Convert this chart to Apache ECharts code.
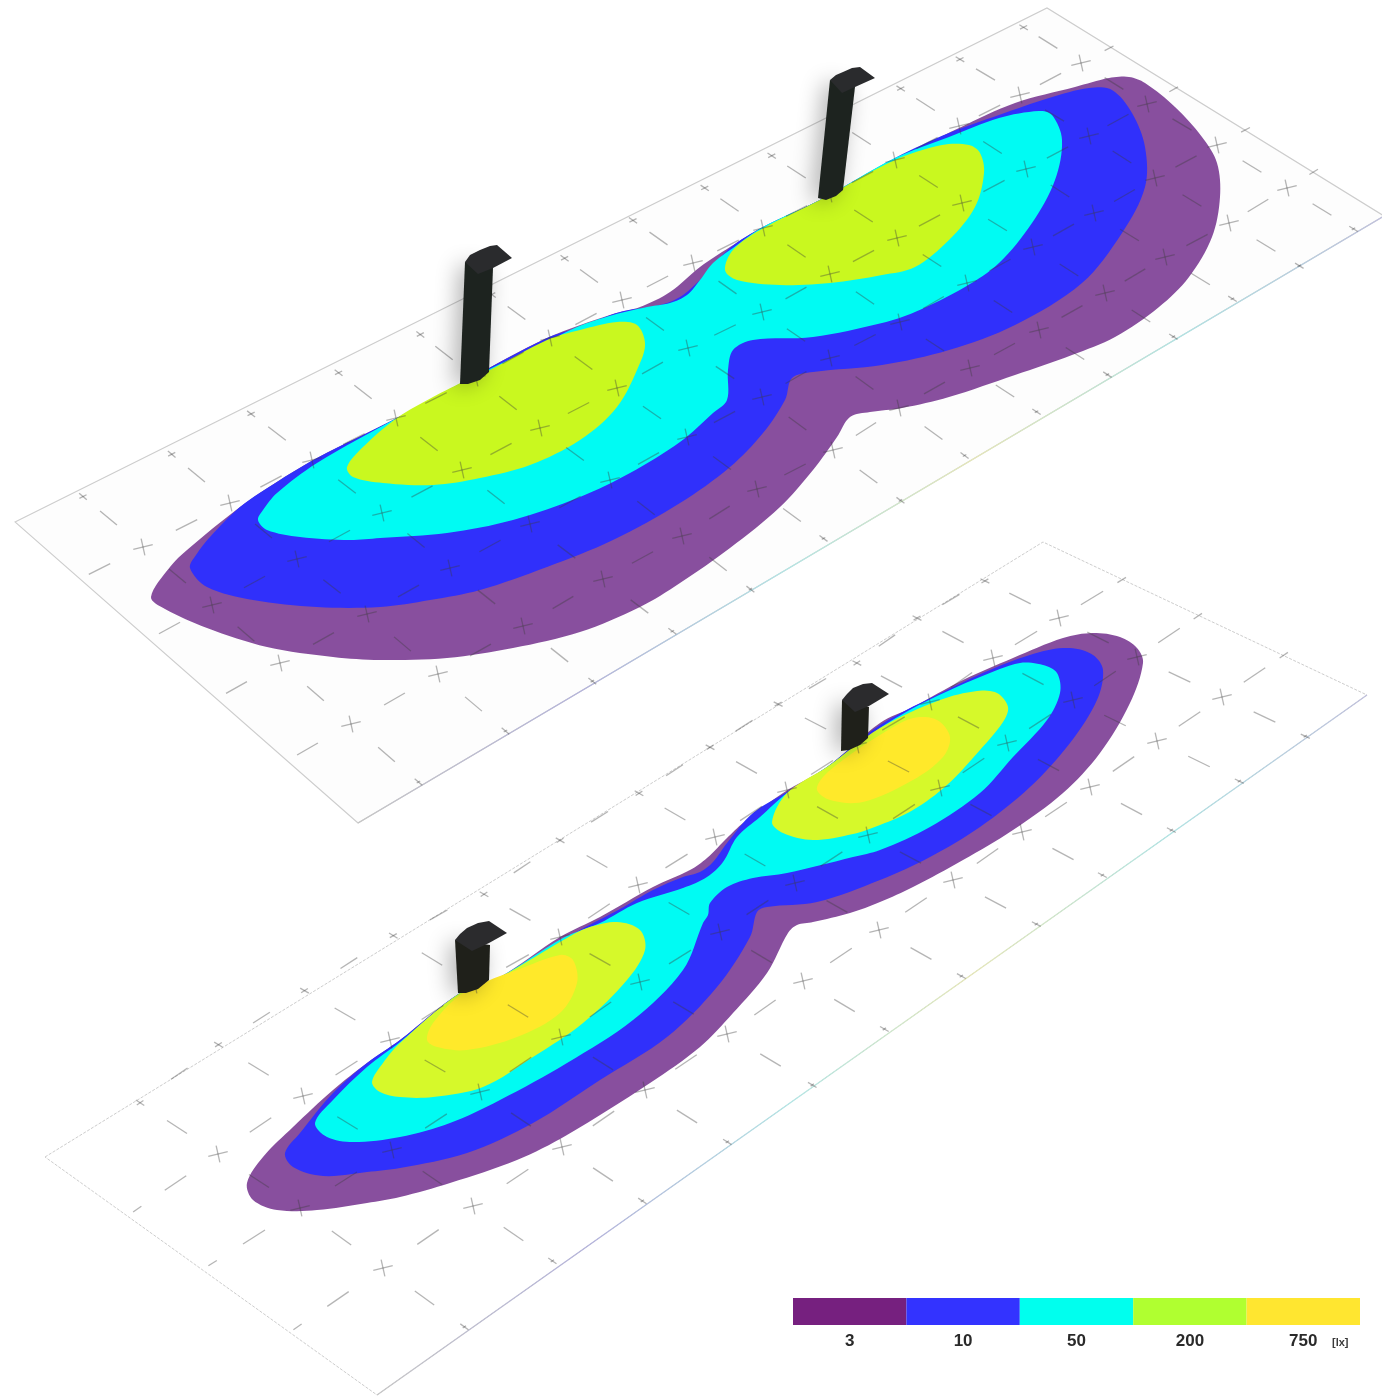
<!DOCTYPE html>
<html>
<head>
<meta charset="utf-8">
<style>html,body{margin:0;padding:0;background:#fff}#c{width:1382px;height:1397px}</style>
<script src="https://cdn.jsdelivr.net/npm/echarts@6/dist/echarts.min.js"></script>
</head>
<body>
<div id="c"></div>
<script>
// ---------- legend ----------
var legendLabels = ['3', '10', '50', '200', '750'];
var legendValues = [1, 1, 1, 1, 1];
var legendColors = ['#76207f', '#3333ff', '#00ffee', '#b0ff30', '#ffe630'];
var unitLabel = '[lx]';

// ---------- upper plane ----------
var plane1 = [[15,522],[1047,8],[1384,216],[358,823]];
var plane1Rows = [
  [[143,547],[230,503],[312,460],[396,418],[476,378],[550,338],[622,300],[693,263],[763,228],[830,194],[895,160],[959,126],[1020,95],[1081,63]],
  [[212,605],[297,559],[382,513],[462,470],[540,428],[617,388],[688,348],[762,312],[830,274],[897,238],[962,203],[1026,169],[1089,136],[1147,104]],
  [[280,663],[367,614],[450,568],[530,524],[610,480],[687,437],[762,397],[830,358],[900,322],[967,283],[1033,247],[1094,213],[1155,178],[1217,145]],
  [[351,724],[438,674],[523,626],[603,579],[682,536],[757,489],[833,450],[899,408],[970,368],[1039,330],[1105,293],[1165,257],[1229,223],[1287,188]]
];
var p1Lux3 = [[151,597],[170,567],[187,550],[240,507],[280,480],[317,458],[397,418],[467,380],[547,338],[613,314],[640,307],[670,292],[700,267],[730,247],[763,227],[820,200],[895,160],[959,128],[1015,103],[1075,87],[1109,78],[1129,77],[1145,83],[1175,107],[1202,137],[1217,163],[1220,197],[1212,237],[1189,277],[1159,307],[1115,337],[1072,355],[1015,375],[949,397],[902,408],[870,412],[850,417],[837,437],[813,470],[780,507],[730,548],[680,583],[640,607],[580,632],[513,648],[447,658],[380,660],[333,657],[267,647],[207,628],[165,609]];
var p1Lux10 = [[190,568],[196,555],[210,537],[240,507],[280,480],[317,458],[397,418],[467,380],[547,338],[580,327],[620,312],[660,305],[680,297],[700,280],[730,248],[763,227],[820,200],[895,158],[949,133],[999,115],[1049,98],[1089,88],[1112,90],[1132,113],[1145,147],[1145,187],[1122,233],[1082,283],[1015,325],[949,350],[882,365],[813,372],[792,378],[785,400],[763,433],[730,467],[680,503],[613,540],[547,567],[480,590],[430,600],[380,607],[317,607],[253,600],[207,587]];
var p1Lux50 = [[258,520],[263,510],[277,493],[317,463],[397,418],[467,380],[547,342],[577,327],[613,315],[647,307],[670,303],[687,295],[700,280],[713,263],[733,248],[763,227],[820,200],[895,158],[949,137],[999,118],[1039,111],[1052,115],[1062,140],[1055,180],[1032,223],[999,263],[965,287],[915,312],[882,323],[813,337],[753,340],[733,350],[728,370],[727,400],[713,413],[680,442],[630,473],[580,497],[513,520],[447,533],[380,538],[350,540],[300,537],[267,530]];
var p1Lux200a = [[347,467],[363,447],[397,418],[433,397],[467,380],[490,370],[547,340],[580,330],[617,322],[637,325],[645,343],[640,363],[617,407],[580,440],[530,465],[480,478],[433,485],[383,483],[353,477]];
var p1Lux200b = [[725,270],[733,250],[760,230],[820,200],[895,160],[942,145],[969,145],[980,153],[984,173],[975,207],[949,240],[915,267],[882,275],[830,283],[780,285],[737,280]];
var p1PoleA = [[465,262],[460,384],[468,384],[480,380],[489,372],[493,268]];
var p1HoodA = [[465,262],[470,255],[480,250],[490,246],[497,245],[512,258],[493,268],[478,274]];
var p1PoleB = [[830,80],[818,198],[826,200],[836,196],[843,190],[855,87]];
var p1HoodB = [[830,80],[836,75],[843,72],[852,68],[860,67],[875,78],[855,87],[842,93]];

// ---------- lower plane ----------
var plane2 = [[45,1157],[1043,542],[1367,695],[377,1395]];
var plane2Rows = [
  [[218,1154],[303,1096],[390,1040],[475,985],[560,937],[638,885],[715,837],[787,790],[857,745],[930,702],[993,658],[1059,618]],
  [[300,1208],[392,1150],[480,1092],[561,1037],[640,982],[720,932],[795,883],[868,835],[940,788],[1007,743],[1073,700],[1137,657]],
  [[383,1268],[473,1206],[562,1147],[645,1090],[727,1034],[803,981],[879,930],[953,880],[1022,832],[1090,787],[1157,741],[1222,697]]
];
var p2Lux3 = [[247,1183],[263,1157],[293,1127],[333,1090],[367,1063],[400,1040],[460,993],[500,977],[560,937],[600,917],[653,887],[690,870],[707,858],[727,838],[743,823],[783,793],[827,767],[880,723],[913,707],[963,680],[1013,658],[1063,638],[1093,633],[1120,637],[1137,648],[1143,663],[1130,703],[1100,753],[1063,793],[1013,830],[963,860],[913,887],[880,902],[850,913],[813,922],[797,925],[788,933],[767,973],[733,1013],[700,1047],[650,1083],[567,1135],[517,1160],[450,1183],[400,1197],[367,1203],[317,1210],[277,1210],[253,1200]];
var p2Lux10 = [[285,1153],[300,1133],[333,1093],[367,1063],[400,1040],[460,993],[500,977],[567,938],[580,930],[620,909],[653,890],[683,877],[700,872],[713,862],[727,843],[753,813],[787,792],[827,767],[880,725],[947,690],[997,667],[1040,652],[1070,648],[1093,655],[1103,670],[1097,700],[1070,743],[1030,787],[980,827],[930,857],[880,880],[817,902],[767,907],[757,912],[750,937],[717,987],[667,1037],[600,1080],[533,1123],[467,1153],[400,1168],[367,1172],[323,1176],[293,1167]];
var p2Lux50 = [[315,1123],[333,1100],[367,1067],[400,1042],[460,993],[500,977],[563,938],[600,923],[637,903],[683,888],[707,877],[723,862],[737,837],[760,817],[787,793],[827,767],[880,728],[923,703],[980,677],[1020,663],[1043,665],[1057,673],[1060,693],[1047,720],[1013,757],[980,793],[930,827],[880,850],[853,857],[787,873],[753,878],[727,887],[710,903],[708,915],[703,923],[683,970],[633,1020],[567,1063],[500,1100],[450,1123],[400,1137],[353,1142],[327,1137]];
var p2Lux200a = [[372,1082],[383,1063],[400,1043],[460,993],[500,977],[567,938],[587,928],[617,922],[640,930],[645,950],[627,980],[583,1023],[533,1057],[483,1087],[433,1097],[400,1097],[380,1092]];
var p2Lux200b = [[772,822],[787,793],[827,767],[880,728],[940,700],[977,691],[997,693],[1008,707],[1003,722],[980,750],[947,785],[913,810],[880,825],[853,834],[813,840],[783,833]];
var p2Lux750a = [[427,1040],[433,1023],[460,995],[490,980],[517,970],[560,955],[573,960],[577,983],[560,1013],[517,1037],[467,1050],[437,1047]];
var p2Lux750b = [[817,790],[823,777],[847,757],[880,735],[913,718],[937,720],[950,737],[943,757],[913,780],[863,802],[830,800]];
var p2PoleA = [[455,940],[458,993],[466,993],[478,989],[489,980],[490,945]];
var p2HoodA = [[455,940],[460,934],[467,928],[478,923],[489,921],[507,933],[489,943],[472,951]];
var p2PoleB = [[842,700],[841,751],[849,750],[860,745],[868,738],[869,707]];
var p2HoodB = [[842,700],[847,694],[853,688],[863,684],[872,683],[889,694],[869,706],[855,712]];

// ---------- helpers ----------
function dist(p, q) { return Math.hypot(q[0] - p[0], q[1] - p[1]) || 1; }
// closed chord-length Hermite outline through the read points
function smooth(pts) {
  var out = [], n = pts.length, S = 8;
  for (var i = 0; i < n; i++) {
    var a = pts[(i - 1 + n) % n], b = pts[i], c = pts[(i + 1) % n], d = pts[(i + 2) % n];
    var d0 = dist(a, b), d1 = dist(b, c), d2 = dist(c, d);
    var tb = [(c[0] - a[0]) / (d0 + d1) * d1, (c[1] - a[1]) / (d0 + d1) * d1];
    var tc = [(d[0] - b[0]) / (d1 + d2) * d1, (d[1] - b[1]) / (d1 + d2) * d1];
    for (var k = 0; k < S; k++) {
      var t = k / S, t2 = t * t, t3 = t2 * t;
      var h1 = 2 * t3 - 3 * t2 + 1, h2 = t3 - 2 * t2 + t, h3 = -2 * t3 + 3 * t2, h4 = t3 - t2;
      out.push([
        h1 * b[0] + h2 * tb[0] + h3 * c[0] + h4 * tc[0],
        h1 * b[1] + h2 * tb[1] + h3 * c[1] + h4 * tc[1]
      ]);
    }
  }
  return out;
}
function polySeries(pts, fill, z, opt) {
  opt = opt || {};
  var drawn = opt.smooth === false ? pts : smooth(pts);
  return {
    type: 'custom', coordinateSystem: 'cartesian2d', xAxisIndex: 0, yAxisIndex: 0,
    silent: true, z: z, clip: true, data: pts,
    encode: { x: 0, y: 1 },
    renderItem: function (params, api) {
      if (params.dataIndex !== 0) return null;
      return {
        type: 'polygon',
        shape: { points: drawn.map(function (p) { return api.coord(p); }) },
        style: Object.assign({ fill: fill, stroke: opt.stroke || null, lineWidth: opt.lineWidth || 0 }, opt.style || {})
      };
    }
  };
}
function mid(p, q, t) { return [p[0] + (q[0] - p[0]) * t, p[1] + (q[1] - p[1]) * t]; }
function unit(p, q) { var l = dist(p, q); return [(q[0] - p[0]) / l, (q[1] - p[1]) / l]; }
function seg(c, u, h) { return [c[0] - u[0] * h, c[1] - u[1] * h, c[0] + u[0] * h, c[1] + u[1] * h]; }

// Marks: crosses are the read lattice points, dashes and edge ticks sit between them.
function latticeMarks(rows, o) {
  var m = [], nr = rows.length, nc = rows[0].length, r, c;
  for (r = 0; r < nr; r++) for (c = 0; c < nc; c++) {
    var p = rows[r][c];
    m.push(seg(p, [0.97, -0.24], 10));
    m.push(seg(p, [0.22, 0.975], 8.5));
    var prev = c > 0 ? rows[r][c - 1] : null, next = c < nc - 1 ? rows[r][c + 1] : null;
    var ra = next ? unit(p, next) : unit(prev, p);
    if (next) m.push(seg(mid(p, next, .5), ra, o.dash));
    else if (o.rightDash) m.push(seg(mid(p, prev, -.5), ra, o.dash));
    if (!prev) m.push(seg(mid(p, next, -.5), ra, o.dash));
    var below = r < nr - 1 ? rows[r + 1][c] : null, above = r > 0 ? rows[r - 1][c] : null;
    var ca = below ? unit(p, below) : unit(above, p);
    if (below) m.push(seg(mid(p, below, .5), ca, o.dash * .92));
    else m.push(seg(mid(p, above, -.5), ca, o.dash * .92));
    if (!above) m.push(seg(mid(p, below, -.5), ca, o.dash * .92));
    // edge ticks
    if (!above) {
      var t0 = mid(p, below, -o.topK);
      m.push(seg(t0, ca, 5)); m.push(seg(t0, ra, 4));
      if (o.topDash && next) m.push(seg(mid(t0, mid(next, rows[1][c + 1], -o.topK), .5), ra, 10));
    }
    if (!below) { var t1 = mid(p, above, -o.botK); m.push(seg(t1, ca, 5)); m.push(seg(t1, ra, 2)); }
    if (!next) m.push(seg(mid(p, prev, -o.rightK), ra, 5));
    if (!prev && o.leftK) m.push(seg(mid(p, next, -o.leftK), ra, 5));
  }
  return m;
}
function markSeries(segs, color, z) {
  return {
    type: 'custom', coordinateSystem: 'cartesian2d', xAxisIndex: 0, yAxisIndex: 0,
    silent: true, z: z, data: segs, encode: { x: [0, 2], y: [1, 3] },
    renderItem: function (params, api) {
      var a = api.coord([api.value(0), api.value(1)]), b = api.coord([api.value(2), api.value(3)]);
      return { type: 'line', shape: { x1: a[0], y1: a[1], x2: b[0], y2: b[1] },
        style: { stroke: color, lineWidth: 1.3, fill: null } };
    }
  };
}
function edgeTint(a, b, z) {
  return {
    type: 'custom', coordinateSystem: 'cartesian2d', xAxisIndex: 0, yAxisIndex: 0,
    silent: true, z: z, data: [a, b], encode: { x: 0, y: 1 },
    renderItem: function (params, api) {
      if (params.dataIndex !== 0) return null;
      var p = api.coord(a), q = api.coord(b);
      return { type: 'line', shape: { x1: p[0], y1: p[1], x2: q[0], y2: q[1] },
        style: { fill: null, lineWidth: 1.3, stroke: new echarts.graphic.LinearGradient(p[0], p[1], q[0], q[1],
          [{offset:0,color:'#c6c6c6'},{offset:.22,color:'#b4b3dc'},{offset:.42,color:'#b3e6e5'},{offset:.6,color:'#e6e7b8'},{offset:.8,color:'#b0e4e4'},{offset:1,color:'#c0c0dc'}], true) } };
    }
  };
}

var purple = '#884f9e', blue = '#3030fb', cyan = '#00fbf3', lime1 = '#c9f81f', lime2 = '#d6f92a', yellow = '#ffe92a';
var poleStyle = { shadowBlur: 22, shadowColor: 'rgba(0,0,0,.3)', shadowOffsetX: -6, shadowOffsetY: 2 };
var planeEdge = '#cdcdcd', markColor = 'rgba(60,60,60,.38)';
var series = [
  polySeries(plane1, '#fdfdfd', 1, { smooth: false, stroke: planeEdge, lineWidth: 1.1 }),
  edgeTint(plane1[3], plane1[2], 2),
  polySeries(p1Lux3, purple, 3),
  polySeries(p1Lux10, blue, 4),
  polySeries(p1Lux50, cyan, 5),
  polySeries(p1Lux200a, lime1, 6),
  polySeries(p1Lux200b, lime1, 6),
  markSeries(latticeMarks(plane1Rows, { dash: 12, rightDash: false, topK: .87, botK: .95, rightK: .46, leftK: 0 }), markColor, 8),
  polySeries(p1PoleA, '#1d231f', 9, { smooth: false, style: poleStyle }),
  polySeries(p1HoodA, '#2a2b2d', 10, { smooth: false }),
  polySeries(p1PoleB, '#1d231f', 9, { smooth: false, style: poleStyle }),
  polySeries(p1HoodB, '#2a2b2d', 10, { smooth: false }),

  polySeries(plane2, '#ffffff', 1, { smooth: false, stroke: planeEdge, lineWidth: 1, style: { lineDash: [3, 1.5] } }),
  edgeTint(plane2[3], plane2[2], 2),
  polySeries(p2Lux3, purple, 3),
  polySeries(p2Lux10, blue, 4),
  polySeries(p2Lux50, cyan, 5),
  polySeries(p2Lux200a, lime2, 6),
  polySeries(p2Lux200b, lime2, 6),
  polySeries(p2Lux750a, yellow, 7),
  polySeries(p2Lux750b, yellow, 7),
  markSeries(latticeMarks(plane2Rows, { dash: 13, rightDash: true, topDash: true, topK: .95, botK: .98, rightK: .95, leftK: .95 }), markColor, 8),
  polySeries(p2PoleA, '#1f201a', 9, { smooth: false, style: poleStyle }),
  polySeries(p2HoodA, '#2b2b2d', 10, { smooth: false }),
  polySeries(p2PoleB, '#1f201a', 9, { smooth: false, style: poleStyle }),
  polySeries(p2HoodB, '#2b2b2d', 10, { smooth: false }),

  {
    type: 'bar', xAxisIndex: 1, yAxisIndex: 1, silent: true, barWidth: '100%', z: 5,
    data: legendValues.map(function (v, i) { return { value: v, itemStyle: { color: legendColors[i] } }; })
  }
];

var chart = echarts.init(document.getElementById('c'), null, { renderer: 'canvas', width: 1382, height: 1397 });
chart.setOption({
  animation: false,
  backgroundColor: '#ffffff',
  grid: [
    { left: 0, top: 0, width: 1382, height: 1397 },
    { left: 793, top: 1298, width: 567, height: 27 }
  ],
  xAxis: [
    { type: 'value', gridIndex: 0, min: 0, max: 1382, show: false },
    { type: 'category', gridIndex: 1, data: legendLabels,
      axisLine: { show: false }, axisTick: { show: false },
      axisLabel: { color: '#2a2a2a', fontFamily: 'Liberation Sans', fontWeight: 'bold', fontSize: 17, margin: 8 } }
  ],
  yAxis: [
    { type: 'value', gridIndex: 0, min: 0, max: 1397, inverse: true, show: false },
    { type: 'value', gridIndex: 1, min: 0, max: 1, show: false }
  ],
  graphic: [{ type: 'text', left: 1332, top: 1337, silent: true,
    style: { text: unitLabel, fill: '#3a3a3a', font: 'bold 11px "Liberation Sans"' } }],
  series: series
});
</script>
</body>
</html>
